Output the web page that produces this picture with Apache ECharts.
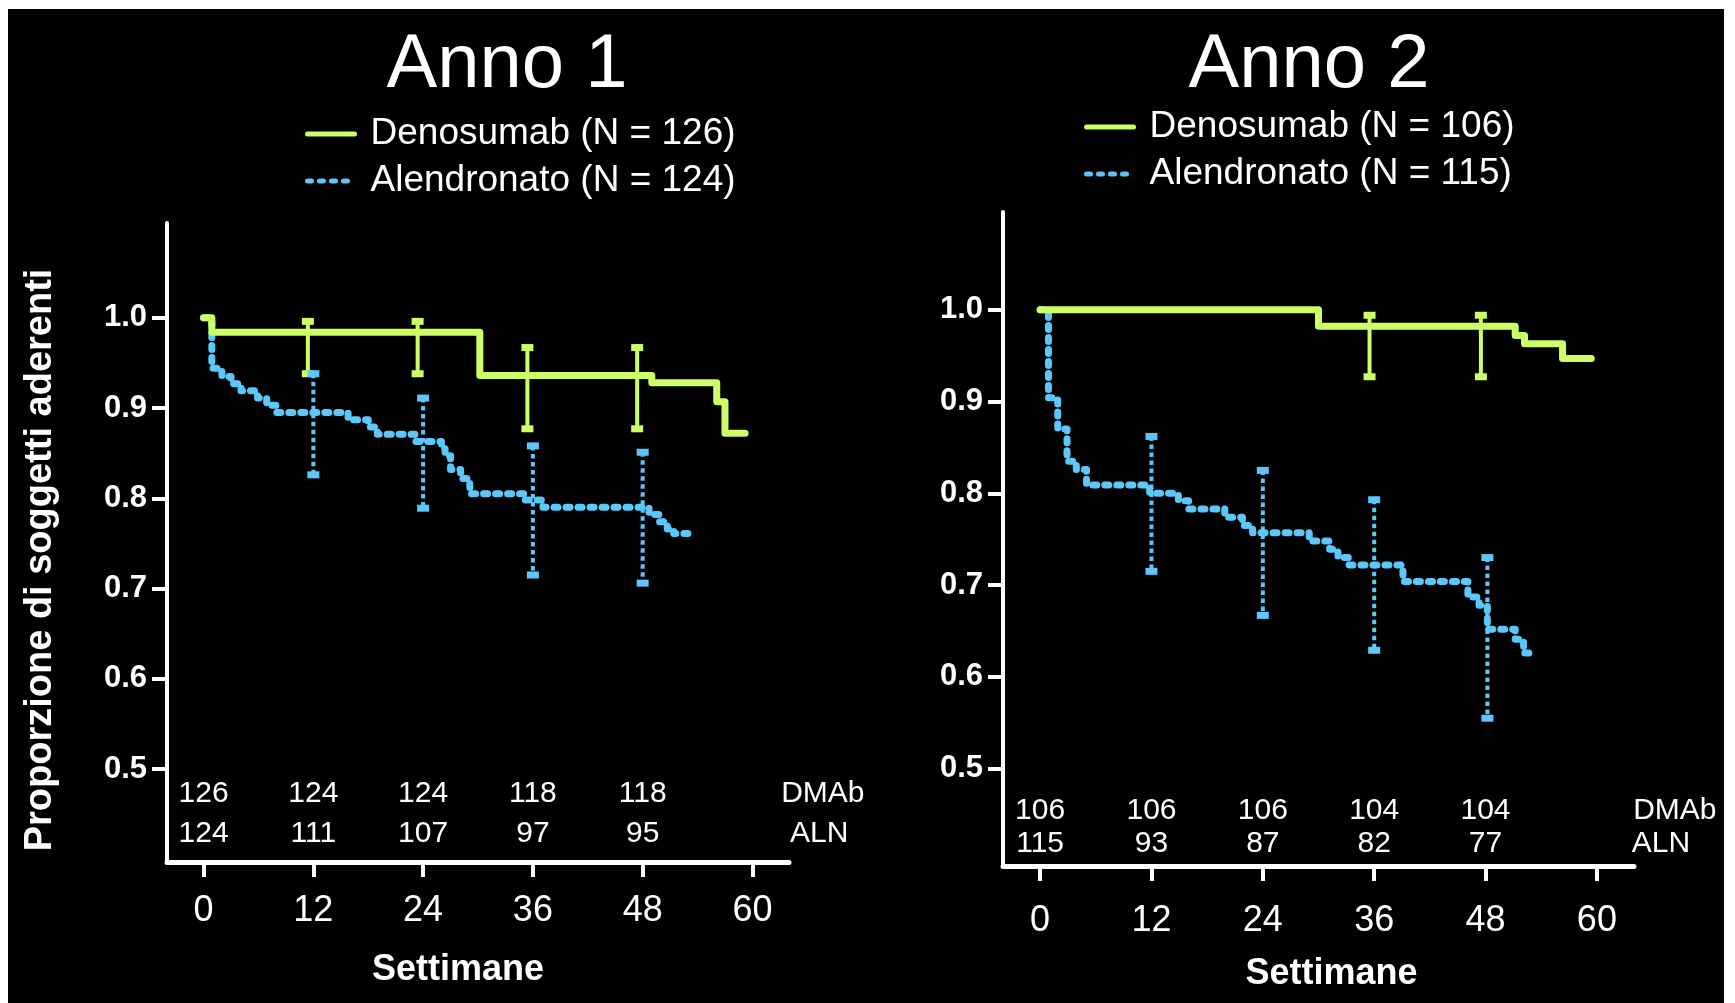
<!DOCTYPE html>
<html>
<head>
<meta charset="utf-8">
<title>Aderenza Denosumab vs Alendronato</title>
<script src="https://cdn.jsdelivr.net/npm/echarts@6.0.0/dist/echarts.min.js"></script>
<style>
  html, body { margin: 0; padding: 0; background: #fff; }
  #chart { width: 1735px; height: 1003px; }
</style>
</head>
<body>
<div id="chart"></div>
<script>
// ---- data ----
var weekTicks = [0, 12, 24, 36, 48, 60];
var yTicks = [0.5, 0.6, 0.7, 0.8, 0.9, 1.0];

// Anno 1 : [settimana, proporzione] (step points)
var anno1Deno = [[0, 1.0], [0.9, 0.984], [30.2, 0.936], [49.0, 0.928], [56.1, 0.907], [57.0, 0.872], [59.2, 0.872]];
var anno1Aln = [[0, 1.0], [0.9, 0.944], [2.0, 0.935], [3.0, 0.927], [4.1, 0.919], [5.9, 0.911], [6.9, 0.903],
  [7.9, 0.895], [15.8, 0.887], [18.0, 0.879], [19.0, 0.871], [23.1, 0.863], [26.0, 0.855], [26.4, 0.847],
  [27.0, 0.832], [28.1, 0.822], [29.1, 0.805], [35.1, 0.798], [37.1, 0.790], [48.7, 0.782], [49.8, 0.774],
  [50.7, 0.766], [51.4, 0.761], [53.0, 0.761]];
// error bars : [settimana, basso, alto]
var anno1DenoErr = [[11.4, 0.938, 0.996], [23.4, 0.938, 0.996], [35.4, 0.877, 0.967], [47.4, 0.877, 0.967]];
var anno1AlnErr = [[12, 0.826, 0.938], [24, 0.789, 0.911], [36, 0.715, 0.858], [48, 0.706, 0.851]];
var anno1RiskDeno = [126, 124, 124, 118, 118];
var anno1RiskAln = [124, 111, 107, 97, 95];

// Anno 2
var anno2Deno = [[0, 1.0], [30.0, 0.982], [51.2, 0.972], [52.2, 0.963], [56.3, 0.947], [59.4, 0.947]];
var anno2Aln = [[0, 1.0], [0.9, 0.904], [1.9, 0.870], [2.9, 0.835], [3.9, 0.826], [5.0, 0.809], [11.8, 0.800],
  [14.9, 0.792], [16.0, 0.783], [19.9, 0.774], [21.8, 0.765], [22.9, 0.757], [29.0, 0.748], [31.2, 0.739],
  [32.1, 0.730], [33.3, 0.722], [39.1, 0.704], [46.1, 0.687], [47.3, 0.678], [48.2, 0.652], [51.2, 0.641],
  [52.1, 0.626], [52.8, 0.626]];
var anno2DenoErr = [[35.5, 0.927, 0.994], [47.5, 0.927, 0.994]];
var anno2AlnErr = [[12, 0.715, 0.862], [24, 0.667, 0.825], [36, 0.629, 0.793], [48.2, 0.555, 0.730]];
var anno2RiskDeno = [106, 106, 106, 104, 104];
var anno2RiskAln = [115, 93, 87, 82, 77];

// ---- styling ----
var FONT = "'Liberation Sans', Arial, Helvetica, sans-serif";
var GREEN = '#CCFF66';
var BLUE = '#5CC8FA';
var WHITE = '#ffffff';

var chart = echarts.init(document.getElementById('chart'));

function xAxisCfg(idx, namePad, labelMargin) {
  return {
    type: 'value', gridIndex: idx, min: -4, max: 64,
    name: 'Settimane', nameLocation: 'middle', nameGap: 90,
    nameTextStyle: { color: WHITE, fontSize: 36, fontWeight: 'bold', fontFamily: FONT, padding: namePad },
    axisLine: { show: true, onZero: false, lineStyle: { color: WHITE, width: 5, cap: 'round' } },
    axisTick: { show: true, length: 15, lineStyle: { color: WHITE, width: 4 }, customValues: weekTicks },
    axisLabel: { color: WHITE, fontSize: 36, fontFamily: FONT, margin: labelMargin, customValues: weekTicks },
    splitLine: { show: false }
  };
}

function yAxisCfg(idx, min, max) {
  return {
    type: 'value', gridIndex: idx, min: min, max: max,
    axisLine: { show: true, onZero: false, lineStyle: { color: WHITE, width: 4, cap: 'round' } },
    axisTick: { show: true, length: 15, lineStyle: { color: WHITE, width: 4 }, customValues: yTicks },
    axisLabel: {
      color: WHITE, fontSize: 31, fontWeight: 'bold', fontFamily: FONT, margin: 20,
      customValues: yTicks,
      formatter: function (v) { return v.toFixed(1); }
    },
    splitLine: { show: false }
  };
}

function kmSeries(name, data, color, dotted, idx, z) {
  return {
    name: name, type: 'line', xAxisIndex: idx, yAxisIndex: idx,
    data: data, step: 'end', symbol: 'none', showSymbol: false, z: z, clip: false, silent: true,
    lineStyle: { color: color, width: 7, type: dotted ? [4, 8] : 'solid', cap: 'round', join: 'round' },
    itemStyle: { color: color }
  };
}

function errSeries(data, color, dotted, idx, z) {
  return {
    type: 'custom', xAxisIndex: idx, yAxisIndex: idx, data: data, z: z, silent: true,
    encode: { x: 0, y: [1, 2] },
    renderItem: function (params, api) {
      var top = api.coord([api.value(0), api.value(2)]);
      var bot = api.coord([api.value(0), api.value(1)]);
      var cw = 12, ch = 7;
      return {
        type: 'group',
        children: [
          { type: 'line', shape: { x1: top[0], y1: top[1], x2: bot[0], y2: bot[1] },
            style: { stroke: color, lineWidth: 4, lineDash: dotted ? [4.5, 3.5] : null } },
          { type: 'rect', shape: { x: top[0] - cw / 2, y: top[1] - ch / 2, width: cw, height: ch }, style: { fill: color } },
          { type: 'rect', shape: { x: bot[0] - cw / 2, y: bot[1] - ch / 2, width: cw, height: ch }, style: { fill: color } }
        ]
      };
    }
  };
}

// numbers at risk, one row
function riskSeries(counts, rowLabel, rowY, labelWeek, idx, dx) {
  var pts = counts.map(function (c, i) {
    return { value: [weekTicks[i], rowY], name: String(c) };
  });
  pts.push({ value: [labelWeek, rowY], name: rowLabel });
  return {
    type: 'scatter', xAxisIndex: idx, yAxisIndex: idx, data: pts, clip: false, silent: true,
    symbolSize: 0, itemStyle: { color: WHITE },
    label: {
      show: true, position: 'inside', formatter: '{b}', offset: [dx, 0],
      color: WHITE, fontSize: 30, fontFamily: FONT, textBorderWidth: 0, opacity: 1
    },
    labelLayout: { hideOverlap: false }
  };
}

var legendText = { color: WHITE, fontSize: 37, fontFamily: FONT, lineHeight: 40, padding: [0, 0, 0, 11] };

chart.setOption({
  backgroundColor: '#ffffff',
  animation: false,
  graphic: [
    { type: 'rect', z: -10, shape: { x: 8, y: 9, width: 1716, height: 994 }, style: { fill: '#000' } },
    { type: 'text', x: 41, y: 560, rotation: Math.PI / 2,
      style: { text: 'Proporzione di soggetti aderenti', fill: WHITE,
        font: 'bold 38px ' + FONT, textAlign: 'center', textVerticalAlign: 'middle' } }
  ],
  title: [
    { text: 'Anno 1', left: 507, top: 28, textAlign: 'center', padding: 0,
      textStyle: { color: WHITE, fontSize: 76, fontWeight: 'normal', fontFamily: FONT } },
    { text: 'Anno 2', left: 1309, top: 28, textAlign: 'center', padding: 0,
      textStyle: { color: WHITE, fontSize: 76, fontWeight: 'normal', fontFamily: FONT } }
  ],
  legend: [
    { data: ['Denosumab (N = 126)', 'Alendronato (N = 124)'], orient: 'vertical', left: 305, top: 114,
      itemWidth: 47, itemHeight: 14, itemGap: 7, selectedMode: false, padding: 0,
      itemStyle: { opacity: 0 }, lineStyle: { width: 5 }, textStyle: legendText },
    { data: ['Denosumab (N = 106)', 'Alendronato (N = 115)'], orient: 'vertical', left: 1084, top: 107,
      itemWidth: 47, itemHeight: 14, itemGap: 7, selectedMode: false, padding: 0,
      itemStyle: { opacity: 0 }, lineStyle: { width: 5 }, textStyle: legendText }
  ],
  grid: [
    { left: 167, top: 223, width: 622, height: 639, containLabel: false },
    { left: 1003, top: 212, width: 631, height: 654, containLabel: false }
  ],
  xAxis: [xAxisCfg(0, [0, 40, 0, 0], 31), xAxisCfg(1, [0, 0, 0, 26], 37)],
  yAxis: [yAxisCfg(0, 0.397, 1.105), yAxisCfg(1, 0.394, 1.1065)],
  series: [
    kmSeries('Alendronato (N = 124)', anno1Aln, BLUE, true, 0, 3),
    kmSeries('Denosumab (N = 126)', anno1Deno, GREEN, false, 0, 4),
    errSeries(anno1DenoErr, GREEN, false, 0, 5),
    errSeries(anno1AlnErr, BLUE, true, 0, 6),
    riskSeries(anno1RiskDeno, 'DMAb', 0.473, 67.7, 0, 4),
    riskSeries(anno1RiskAln, 'ALN', 0.428, 67.3, 0, 4),

    kmSeries('Alendronato (N = 115)', anno2Aln, BLUE, true, 1, 3),
    kmSeries('Denosumab (N = 106)', anno2Deno, GREEN, false, 1, 4),
    errSeries(anno2DenoErr, GREEN, false, 1, 5),
    errSeries(anno2AlnErr, BLUE, true, 1, 6),
    riskSeries(anno2RiskDeno, 'DMAb', 0.454, 68.4, 1, 5),
    riskSeries(anno2RiskAln, 'ALN', 0.418, 66.9, 1, 5)
  ]
});

window.addEventListener('resize', function () { chart.resize(); });
</script>
</body>
</html>
